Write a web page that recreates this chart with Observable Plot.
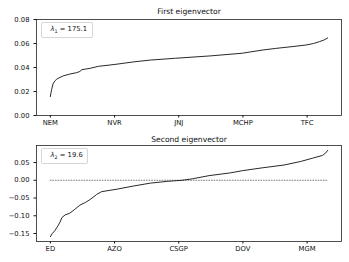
<!DOCTYPE html>
<html><head><meta charset="utf-8">
<script src="https://cdn.jsdelivr.net/npm/d3@7"></script>
<script src="https://cdn.jsdelivr.net/npm/@observablehq/plot@0.6"></script>
<style>
body{margin:0;background:#fff;font-family:"DejaVu Sans",sans-serif;}
#wrap{position:relative;width:349px;height:262px;}
.panel{position:absolute;left:0;}
.leg{position:absolute;box-sizing:border-box;border:1px solid #d6d6d6;border-radius:2px;background:#fff;font-size:6.8px;line-height:13.7px;padding-left:9px;white-space:nowrap;color:#111;}
.leg sub{font-size:4.8px;vertical-align:-1.5px;line-height:0;}
</style></head><body>
<div id="wrap"></div>
<script>
// First eigenvector (sorted loadings), index -> value
const idx1 = [0,1,2,4,7,10,13,20,30,41,46,49,55,62,75,90,104,130,156,195,250,299,330,351,375,398,410,419,426,432];
const val1 = [0.0158,0.019,0.0216,0.0262,0.0288,0.0303,0.0312,0.0330,0.0345,0.0357,0.0367,0.0382,0.0387,0.0393,0.0410,0.0419,0.0428,0.0447,0.0462,0.0477,0.0497,0.0519,0.0545,0.0559,0.0573,0.0587,0.0600,0.0615,0.0628,0.0646];
const ticks1 = ["NEM","NVR","JNJ","MCHP","TFC"];
const lambda1 = "175.1";

// Second eigenvector (sorted loadings), index -> value
const idx2 = [0,3,7,12,15,18,23,30,38,46,55,62,68,72,80,104,130,156,182,205,221,247,281,299,330,364,390,408,424,429,432];
const val2 = [-0.159,-0.150,-0.142,-0.128,-0.118,-0.105,-0.0975,-0.093,-0.082,-0.070,-0.062,-0.054,-0.046,-0.040,-0.032,-0.025,-0.016,-0.008,-0.003,0.000,0.004,0.013,0.021,0.027,0.035,0.043,0.053,0.062,0.070,0.077,0.084];
const ticks2 = ["ED","AZO","CSGP","DOV","MGM"];
const lambda2 = "19.6";

const tickIdx = [0,100,200,300,400];
const nLast = 432;

function panel(idx, val, labels, yDomain, yTicks, title, mt, mb, withZero, titleDy) {
  const data = idx.map((d,i)=>({i:d, v:val[i]}));
  const pad = nLast*0.05;
  const marks = [
    Plot.frame({stroke:"#222", strokeWidth:0.8}),
  ];
  if (withZero) marks.push(Plot.ruleY([0], {x1: idx[0], x2: idx[idx.length-1], stroke:"#222", strokeWidth:0.6, strokeDasharray:"1.6,1"}));
  marks.push(Plot.line(data, {x:"i", y:"v", stroke:"#111", strokeWidth:0.9}));
  marks.push(Plot.text([title], {frameAnchor:"top", lineAnchor:"bottom", dy:titleDy, fontSize:7.6, fill:"#111"}));
  return Plot.plot({
    width:349, height:131,
    marginLeft:36, marginRight:8, marginTop:mt, marginBottom:mb,
    style:{fontFamily:"DejaVu Sans", fontSize:"6.8px", color:"#111", background:"transparent"},
    x:{domain:[-pad, nLast+pad], ticks:tickIdx, tickFormat:(d,i)=>labels[i], tickSize:2.5, tickPadding:2.5, label:null},
    y:{domain:yDomain, ticks:yTicks, tickFormat:d3.format(".2f"), tickSize:2.5, tickPadding:4.5, label:null},
    marks
  });
}

const wrap = document.getElementById("wrap");
const p1 = panel(idx1, val1, ticks1, [0,0.08], [0,0.02,0.04,0.06,0.08], "First eigenvector", 19, 16, false, -5.5);
p1.classList.add("panel"); p1.style.top = "0px";
const p2 = panel(idx2, val2, ticks2, [-0.1725,0.098], [-0.15,-0.10,-0.05,0,0.05], "Second eigenvector", 14, 21, true, -4);
p2.classList.add("panel"); p2.style.top = "131px";
wrap.appendChild(p1); wrap.appendChild(p2);

function legend(left, top, w, h, sub, val) {
  const d = document.createElement("div");
  d.className = "leg";
  d.style.left = left+"px"; d.style.top = top+"px"; d.style.width = w+"px"; d.style.height = h+"px";
  d.innerHTML = `<i>λ</i><sub>${sub}</sub> = ${val}`;
  wrap.appendChild(d);
}
legend(40.5, 22, 52, 16, "1", lambda1);
legend(40.5, 147.5, 47, 16, "2", lambda2);
</script>
</body></html>
